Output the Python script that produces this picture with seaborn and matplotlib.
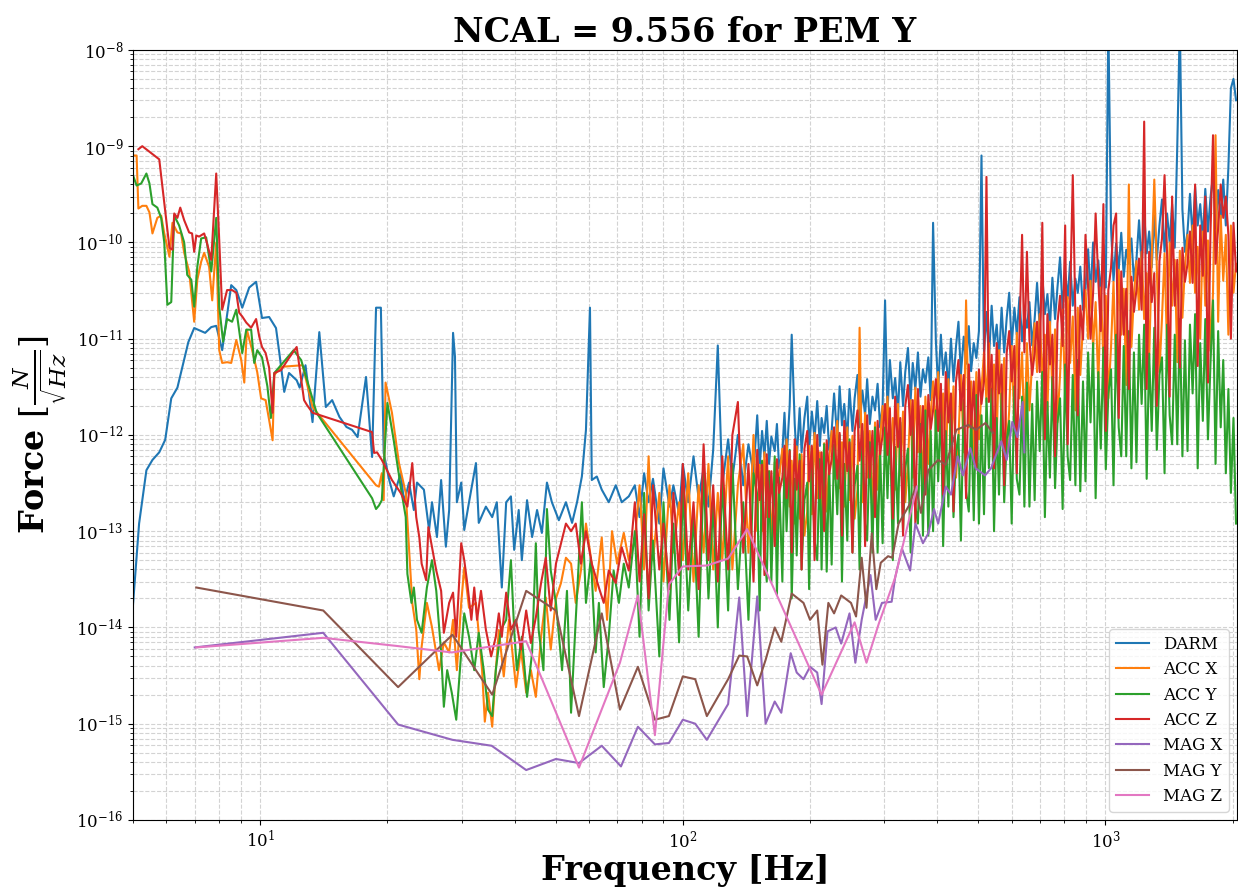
import numpy as np
import pandas as pd
import seaborn as sns
import matplotlib.pyplot as plt
from matplotlib.ticker import LogLocator, NullFormatter

# ---- low frequency part (each channel has its own bins, gaps where masked) ----
darm_freq_low = [
    5.0, 5.17, 5.38, 5.56, 5.77, 5.96, 6.16, 6.37, 6.76, 6.98,
    7.41, 7.66, 7.87, 8.13, 8.54, 8.78, 9.07, 9.42, 9.78, 10.1,
    10.5, 10.9, 11.1, 11.4, 11.7, 12.2, 12.4, 12.8, 13.3, 13.8,
    14.3, 14.8, 15.4, 16.0, 16.5, 17.0, 17.8, 18.4, 18.8, 19.3,
    19.6, 20.2, 20.7, 21.5, 21.9, 22.5, 23.1, 23.5, 24.4, 25.1,
    25.5, 26.2, 26.8, 27.5, 28.0, 28.6, 28.9, 29.2, 29.9, 30.4,
    31.2, 32.4, 32.9, 34.2, 35.4, 36.3, 37.3, 38.2, 39.2, 39.9,
    40.9, 41.6, 42.8, 44.0, 45.2, 46.4, 47.7, 49.0, 50.9, 52.9,
    54.7, 56.2, 57.7, 59.0, 60.3, 60.9, 62.6, 64.3, 66.8, 69.4,
    71.7, 74.5]
darm_low = [
    1.7e-14, 1.2e-13, 4.3e-13, 5.5e-13, 6.6e-13, 8.9e-13, 2.4e-12, 3.1e-12, 9.2e-12, 1.29e-11,
    1.15e-11, 1.32e-11, 1.36e-11, 7.6e-12, 3.6e-11, 3.2e-11, 2.1e-11, 3.4e-11, 3.9e-11, 1.64e-11,
    1.68e-11, 1.29e-11, 7.1e-12, 2.8e-12, 4.4e-12, 3.7e-12, 3.1e-12, 5.3e-12, 1.36e-12, 1.17e-11,
    1.95e-12, 2.3e-12, 1.54e-12, 1.21e-12, 1.13e-12, 9.5e-13, 4.0e-12, 5.9e-13, 2.1e-11, 2.1e-11,
    6.5e-13, 3.4e-13, 2.3e-13, 4.0e-13, 2.0e-13, 3.2e-13, 1.66e-13, 3.2e-13, 2.7e-13, 1.03e-13,
    2.0e-13, 8.7e-14, 3.4e-13, 6.9e-14, 1.66e-13, 1.15e-11, 6.5e-12, 2.0e-13, 3.2e-13, 1.03e-13,
    2.0e-13, 5.1e-13, 1.22e-13, 1.8e-13, 1.4e-13, 2.0e-13, 2.6e-14, 2.0e-13, 2.3e-13, 6.4e-14,
    1.66e-13, 5.0e-14, 2.1e-13, 8.7e-14, 1.66e-13, 9.6e-14, 3.2e-13, 2.0e-13, 1.3e-13, 2.0e-13,
    1.22e-13, 2.0e-13, 3.7e-13, 1.13e-12, 2.1e-11, 3.4e-13, 3.7e-13, 2.7e-13, 2.0e-13, 3.0e-13,
    2.0e-13, 2.3e-13]

accx_freq_low = [
    5.0, 5.1, 5.15, 5.26, 5.38, 5.47, 5.56, 5.71, 5.83, 5.93,
    6.1, 6.2, 6.37, 6.5, 6.61, 6.79, 6.98, 7.1, 7.25, 7.37,
    7.57, 7.7, 7.87, 8.0, 8.13, 8.35, 8.54, 8.78, 9.02, 9.17,
    9.3, 9.57, 9.84, 10.05, 10.3, 10.5, 10.7, 10.8, 11.2, 12.6,
    13.3, 18.8, 19.1, 19.4, 19.6, 19.8, 20.5, 21.3, 22.1, 22.9,
    23.4, 23.8, 24.1, 24.8, 25.5, 26.5, 27.2, 28.0, 28.6, 29.2,
    29.9, 30.4, 31.2, 32.4, 33.5, 34.0, 34.6, 35.4, 36.1, 36.7,
    37.7, 38.8, 40.3, 41.4, 42.6, 43.7, 44.9, 46.2, 47.4, 48.7,
    50.1, 51.5, 52.9, 54.4, 55.8, 57.4, 59.0, 60.6, 62.2, 64.3,
    66.2, 68.0, 69.9, 72.5, 74.5]
accx_low = [
    8.0e-10, 8.0e-10, 2.25e-10, 2.4e-10, 2.4e-10, 2.05e-10, 1.24e-10, 1.8e-10, 1.9e-10, 1.24e-10,
    7.1e-11, 1.6e-10, 1.27e-10, 1.24e-10, 7.8e-11, 5.0e-11, 1.5e-11, 4.1e-11, 6.3e-11, 7.8e-11,
    5.6e-11, 2.5e-11, 1.0e-10, 7.6e-12, 5.6e-12, 5.7e-12, 5.6e-12, 9.7e-12, 6.0e-12, 3.5e-12,
    1.24e-11, 7.6e-12, 4.5e-12, 2.4e-12, 2.3e-12, 1.43e-12, 8.8e-13, 4.2e-12, 5.1e-12, 5.3e-12,
    1.95e-12, 3.0e-13, 2.9e-13, 4.0e-13, 2.1e-13, 3.5e-12, 1.7e-12, 5.1e-13, 2.5e-13, 1.8e-14,
    9.5e-15, 2.9e-15, 6.3e-15, 1.8e-14, 1.0e-14, 3.6e-15, 7.0e-15, 5.5e-15, 1.2e-14, 3.6e-15,
    1.8e-14, 4.2e-14, 1.6e-14, 1.8e-14, 3.6e-15, 1.05e-15, 2.1e-15, 9.3e-16, 3.6e-15, 9.4e-15,
    3.1e-15, 1.2e-14, 2.4e-15, 5.9e-15, 2.1e-15, 3.6e-15, 1.9e-15, 8.0e-15, 2.05e-14, 5.9e-15,
    2.0e-14, 2.9e-14, 5.3e-14, 4.6e-14, 1.8e-14, 3.9e-14, 1.2e-13, 5.3e-14, 2.4e-14, 8.6e-14,
    1.2e-14, 1.0e-13, 4.6e-14, 9.6e-14, 5.0e-14]

accy_freq_low = [
    5.0, 5.1, 5.23, 5.38, 5.47, 5.56, 5.71, 5.83, 5.93, 6.03,
    6.16, 6.26, 6.43, 6.61, 6.72, 6.87, 6.98, 7.1, 7.25, 7.45,
    7.66, 7.87, 8.0, 8.17, 8.35, 8.58, 8.78, 9.07, 9.27, 9.52,
    9.68, 9.84, 10.1, 10.4, 10.6, 10.8, 12.0, 12.5, 13.6, 18.4,
    18.8, 19.1, 19.4, 20.0, 20.7, 21.5, 22.1, 22.3, 22.8, 23.1,
    23.5, 24.1, 24.8, 25.5, 26.1, 26.8, 27.2, 27.7, 28.4, 29.1,
    29.9, 30.4, 31.2, 32.1, 32.9, 33.8, 34.6, 35.4, 36.1, 37.1,
    38.2, 39.2, 39.9, 40.5, 41.6, 42.8, 44.0, 44.9, 45.6, 46.8,
    47.7, 48.7, 50.1, 51.8, 53.2, 54.4, 55.8, 57.7, 59.0, 60.6,
    62.2, 63.3, 65.0, 66.8, 68.6, 70.6, 72.5, 74.5]
accy_low = [
    5.0e-10, 3.9e-10, 4.1e-10, 5.2e-10, 4.1e-10, 2.5e-10, 2.3e-10, 1.8e-10, 1.0e-10, 2.25e-11,
    2.4e-11, 1.9e-10, 1.5e-10, 1.0e-10, 4.6e-11, 4.1e-11, 2.15e-11, 5.6e-11, 1.1e-10, 1.13e-10,
    5.0e-11, 1.8e-10, 2.15e-11, 9.3e-12, 1.6e-11, 1.5e-11, 2.0e-11, 7.1e-12, 1.24e-11, 1.24e-11,
    5.6e-12, 7.6e-12, 6.4e-12, 3.2e-12, 1.5e-12, 4.4e-12, 7.6e-12, 6.0e-12, 1.7e-12, 2.2e-13,
    1.7e-13, 1.85e-13, 2.1e-13, 2.15e-12, 8.8e-13, 2.9e-13, 1.4e-13, 3.6e-14, 1.8e-14, 2.6e-14,
    1.2e-14, 8.8e-15, 2.6e-14, 5.0e-14, 2.4e-14, 5.5e-15, 1.5e-15, 3.6e-15, 2.1e-15, 1.1e-15,
    5.5e-15, 1.4e-14, 8.0e-15, 3.6e-15, 8.8e-15, 3.6e-15, 1.4e-15, 1.2e-15, 3.6e-15, 9.4e-15,
    1.2e-14, 5.0e-14, 9.4e-15, 3.6e-15, 8.0e-15, 1.9e-15, 5.5e-15, 7.5e-14, 9.4e-15, 3.6e-15,
    1.7e-13, 3.9e-14, 1.8e-14, 3.6e-15, 2.4e-14, 1.3e-15, 1.2e-14, 2.0e-13, 1.8e-14, 5.3e-14,
    5.5e-15, 1.8e-14, 2.4e-15, 8.0e-15, 3.9e-14, 1.8e-14, 4.6e-14, 2.6e-14]

accz_freq_low = [
    5.15, 5.26, 5.77, 6.1, 6.2, 6.26, 6.37, 6.47, 6.61, 6.79,
    6.9, 6.98, 7.06, 7.17, 7.37, 7.49, 7.66, 7.87, 8.0, 8.13,
    8.35, 8.58, 8.78, 8.92, 9.07, 9.27, 9.52, 9.78, 9.95, 10.1,
    10.3, 10.5, 10.7, 10.8, 11.2, 11.7, 12.2, 12.7, 12.9, 13.3,
    18.4, 18.6, 18.9, 19.4, 19.8, 20.5, 21.5, 22.3, 22.9, 23.4,
    23.8, 24.1, 24.7, 25.0, 25.5, 26.1, 26.8, 27.2, 28.0, 28.6,
    29.1, 29.9, 30.4, 30.9, 31.6, 32.1, 32.6, 33.3, 34.2, 35.2,
    36.1, 36.7, 37.3, 38.2, 39.2, 40.3, 41.4, 42.6, 43.7, 44.9,
    46.2, 47.4, 48.7, 50.1, 51.5, 52.9, 54.4, 55.8, 57.4, 59.0,
    60.9, 63.3, 65.0, 66.8, 69.4, 71.7, 74.5]
accz_low = [
    9.3e-10, 1.0e-9, 7.3e-10, 8.8e-11, 8.4e-11, 2.0e-10, 1.8e-10, 2.3e-10, 1.7e-10, 1.27e-10,
    1.24e-10, 8.0e-11, 1.18e-10, 1.15e-10, 1.24e-10, 9.7e-11, 6.6e-11, 5.2e-10, 1.05e-10, 2.0e-11,
    3.2e-11, 3.2e-11, 3.0e-11, 1.86e-11, 1.7e-11, 1.47e-11, 1.3e-11, 1.6e-11, 1.05e-11, 8.2e-12,
    7.1e-12, 5.0e-12, 1.7e-12, 4.4e-12, 4.7e-12, 6.3e-12, 8.2e-12, 2.3e-12, 2.05e-12, 1.7e-12,
    1.07e-12, 6.5e-13, 6.6e-13, 5.5e-13, 4.6e-13, 3.4e-13, 2.5e-13, 1.8e-13, 5.1e-13, 1.4e-13,
    8.6e-14, 4.6e-14, 3.1e-14, 1.1e-13, 6.8e-14, 3.9e-14, 2.4e-14, 8.8e-15, 1.8e-14, 2.3e-14,
    8.0e-15, 7.5e-14, 5.0e-14, 2.9e-14, 1.2e-14, 2.6e-14, 1.2e-14, 2.4e-14, 9.5e-15, 5.0e-15,
    8.0e-15, 1.4e-14, 8.0e-15, 2.3e-14, 9.5e-15, 1.2e-14, 5.9e-15, 1.5e-14, 6.9e-15, 1.27e-14,
    2.9e-14, 5.3e-14, 1.5e-14, 4.6e-14, 7.5e-14, 1.2e-13, 1.0e-13, 1.2e-13, 4.6e-14, 1.0e-13,
    4.6e-14, 2.6e-14, 1.8e-14, 3.9e-14, 2.9e-14, 6.8e-14, 3.9e-14]

# ---- high frequency part, shared bins for DARM and the accelerometers ----
freq_hi = [
    77, 79, 81, 83, 85, 88, 90, 93, 95, 98,
    100, 103, 106, 109, 112, 115, 118, 121, 124, 128,
    131, 135, 139, 143, 147,
    150, 152, 154, 156, 158, 160, 162, 165, 167, 169,
    172, 174, 176, 179, 181, 184, 186, 189, 191, 194,
    197, 199, 202, 205, 208, 211, 213, 216, 219, 222,
    225, 228, 232, 235, 238, 241, 245, 248, 252, 255,
    259, 262, 266, 270, 273, 277, 281, 285, 289, 293,
    297, 301, 305, 309, 314, 318, 323, 327, 332, 336,
    341, 346, 350, 355, 360, 365, 370, 375, 381, 386,
    391, 397, 402, 408, 413, 419, 425, 431, 437, 443,
    449, 455, 462, 468, 475, 481, 488, 495, 502, 509,
    516, 523, 530, 538, 545, 553, 560, 568, 576, 584,
    592, 600, 609, 617, 626, 635, 643, 652, 661, 671,
    680, 689, 699, 709, 719, 729, 739, 749, 760, 770,
    781, 792, 803, 814, 825, 837, 849, 860, 872, 885,
    897, 910, 922, 935, 948, 962, 975, 989, 1002, 1016,
    1031, 1045, 1060, 1075, 1090, 1105, 1120, 1136, 1152, 1168,
    1184, 1201, 1218, 1235, 1252, 1269, 1287, 1305, 1323, 1342,
    1361, 1380, 1399, 1419, 1438, 1459, 1479, 1500, 1521, 1542,
    1564, 1585, 1608, 1630, 1653, 1676, 1700, 1723, 1748, 1772,
    1797, 1822, 1848, 1874, 1900, 1927, 1954, 1981, 2009, 2037]
darm_hi = [
    3e-13, 1.4e-13, 4e-13, 2e-13, 3.5e-13, 1.2e-13, 4.5e-13, 1.8e-13, 3e-13, 1.5e-13,
    5e-13, 2e-13, 6e-13, 2.2e-13, 4.5e-13, 1.8e-13, 7e-13, 8.5e-12, 3e-13, 9e-13,
    3.5e-13, 1e-12, 3e-13, 8e-13, 4e-13,
    1.6e-12, 4.5e-13, 1.1e-12, 5.9e-13, 1.4e-12, 5e-13, 9.6e-13, 6.8e-13, 1.3e-12, 4.5e-13,
    6.6e-13, 1.7e-12, 5.5e-13, 2e-12, 1.1e-11, 1.3e-12, 5.5e-13, 1.9e-12, 6.6e-13, 1.5e-12,
    2.5e-12, 7e-13, 1.75e-12, 9.1e-13, 2.25e-12, 7.7e-13, 1.5e-12, 1.05e-12, 2e-12, 7e-13,
    1.1e-12, 2.7e-12, 9e-13, 3.2e-12, 1.26e-12, 2.1e-12, 9e-13, 3e-12, 1.1e-12, 2.4e-12,
    4.2e-12, 1.2e-12, 2.9e-12, 1.6e-12, 3.8e-12, 1.3e-12, 2.5e-12, 1.8e-12, 3.4e-12, 1.2e-12,
    2e-12, 2.5e-11, 1.7e-12, 6e-12, 2.4e-12, 3.9e-12, 1.7e-12, 5.7e-12, 2e-12, 4.5e-12,
    8e-12, 2.3e-12, 5.6e-12, 3e-12, 7.2e-12, 2.5e-12, 4.8e-12, 3.5e-12, 6.4e-12, 2.3e-12,
    1.6e-10, 9.4e-12, 3e-12, 1.1e-11, 4.2e-12, 7.2e-12, 3e-12, 1e-11, 3.6e-12, 8.3e-12,
    1.5e-11, 4.2e-12, 1.05e-11, 5.5e-12, 1.35e-11, 4.6e-12, 9e-12, 6.3e-12, 1.2e-11, 8e-10,
    7.2e-12, 1.9e-11, 6e-12, 2.2e-11, 8.4e-12, 1.4e-11, 6e-12, 2.1e-11, 7.2e-12, 1.65e-11,
    3e-11, 8.5e-12, 2.1e-11, 1.1e-11, 2.7e-11, 9.4e-12, 1.8e-11, 1.3e-11, 2.4e-11, 8.5e-12,
    1.6e-11, 3.8e-11, 1.3e-11, 4.5e-11, 1.8e-11, 2.9e-11, 1.3e-11, 4.3e-11, 1.6e-11, 3.4e-11,
    7e-11, 2e-11, 4.9e-11, 2.6e-11, 6.3e-11, 2.2e-11, 4.2e-11, 3e-11, 5.6e-11, 2e-11,
    3.4e-11, 8.5e-11, 2.8e-11, 1e-10, 3.9e-11, 6.5e-11, 2.8e-11, 9.5e-11, 3.4e-11, 2e-8,
    1.4e-10, 4e-11, 9.8e-11, 5.2e-11, 1.26e-10, 4.4e-11, 8.4e-11, 6e-11, 1.1e-10, 4e-11,
    6.6e-11, 1.7e-10, 5.5e-11, 2e-10, 7.7e-11, 1.3e-10, 5.5e-11, 1.9e-10, 6.6e-11, 1.5e-10,
    2.8e-10, 8e-11, 2e-10, 1e-10, 2.5e-10, 8.8e-11, 1e-9, 2e-8, 2.2e-10, 8e-11,
    1.3e-10, 3.2e-10, 1.1e-10, 3.8e-10, 1.5e-10, 2.5e-10, 1.1e-10, 3.6e-10, 1.3e-10, 2.9e-10,
    5e-10, 1.4e-10, 3.5e-10, 1.8e-10, 4.5e-10, 1.5e-10, 6e-10, 4e-9, 5e-9, 3e-9]
accx_hi = [
    8e-14, 3e-13, 4e-14, 6e-13, 5e-14, 2.5e-13, 3e-14, 3e-13, 6e-14, 2e-13,
    5e-14, 4e-13, 3e-14, 3e-13, 6e-14, 5e-13, 4e-14, 2.5e-13, 5e-14, 6e-13,
    4e-14, 3e-13, 8e-13, 6e-14, 1e-12,
    1e-13, 4.9e-13, 1e-13, 6.6e-13, 1.4e-13, 4.2e-13, 7.5e-14, 5.2e-13, 1e-13, 3.5e-13,
    7.2e-13, 2.2e-13, 9e-13, 1.8e-13, 5.4e-13, 1.2e-13, 7.6e-13, 1.35e-13, 6.3e-13, 9e-14,
    1.6e-13, 7.7e-13, 1.5e-13, 1.05e-12, 2.2e-13, 6.6e-13, 1.1e-13, 8.2e-13, 1.6e-13, 5.5e-13,
    1.1e-12, 3.5e-13, 1.4e-12, 2.8e-13, 8.4e-13, 1.8e-13, 1.2e-12, 2.1e-13, 9.8e-13, 1.35e-13,
    2.7e-13, 1.3e-11, 2e-13, 1.7e-12, 3.6e-13, 1.1e-12, 1.5e-13, 1.35e-12, 2.7e-13, 9e-13,
    2e-12, 6.2e-13, 2.5e-12, 5e-13, 1.5e-12, 2.7e-13, 2.1e-12, 3.8e-13, 1.75e-12, 2e-13,
    5e-13, 2.3e-12, 3.6e-13, 3.1e-12, 6.6e-13, 2e-12, 2.7e-13, 2.5e-12, 5e-13, 1.65e-12,
    3.6e-12, 1.1e-12, 4.5e-12, 9e-13, 2.7e-12, 4.8e-13, 3.8e-12, 6.8e-13, 3.2e-12, 3.6e-13,
    9e-13, 4.2e-12, 6.6e-13, 2.5e-11, 1.2e-12, 3.6e-12, 5e-13, 4.5e-12, 9e-13, 3e-12,
    7.2e-12, 2.2e-12, 9e-12, 1.8e-12, 5.4e-12, 9e-13, 7.6e-12, 1.35e-12, 6.3e-12, 6.8e-13,
    1.8e-12, 8.4e-12, 1.2e-12, 1.15e-11, 2.4e-12, 7.2e-12, 9e-13, 9e-12, 1.8e-12, 6e-12,
    1.45e-11, 4.5e-12, 1.8e-11, 3.6e-12, 1.1e-11, 1.8e-12, 1.5e-11, 2.7e-12, 1.25e-11, 1.35e-12,
    4.2e-12, 2e-11, 2.4e-12, 2.7e-11, 5.6e-12, 1.7e-11, 1.8e-12, 2.1e-11, 4.2e-12, 1.4e-11,
    3.2e-11, 1e-11, 4e-11, 8e-12, 2.4e-11, 3.2e-12, 3.4e-11, 6e-12, 2.8e-11, 2.4e-12,
    8.2e-12, 3.9e-11, 4.4e-12, 5.2e-11, 1.1e-11, 3.3e-11, 3.3e-12, 4e-10, 8.2e-12, 2.8e-11,
    6.4e-11, 2e-11, 8e-11, 1.6e-11, 4.8e-11, 6e-12, 6.8e-11, 4.5e-10, 5.6e-11, 4.5e-12,
    1.65e-11, 7.7e-11, 7.6e-12, 1e-10, 2.2e-11, 6.6e-11, 5.7e-12, 8.2e-11, 1.65e-11, 5.5e-11,
    1.2e-10, 3.8e-11, 1.5e-10, 3e-11, 9e-11, 1e-11, 1.3e-10, 2.2e-11, 1.05e-10, 7.5e-12,
    3e-11, 1.3e-9, 1.5e-11, 1.9e-10, 4e-11, 1.2e-10, 1.1e-11, 1.5e-10, 3e-11, 6e-11]
accy_hi = [
    1e-13, 8e-15, 2.5e-13, 1.5e-14, 8e-14, 5e-15, 2e-13, 1.2e-14, 1.2e-13, 7e-15,
    3e-13, 1.5e-14, 1.5e-13, 8e-15, 4e-13, 2e-14, 2e-13, 1e-14, 3.5e-13, 1.5e-14,
    5e-13, 2.5e-14, 2e-13, 1.2e-14, 4e-13,
    2.4e-13, 1.5e-14, 5.4e-13, 6e-14, 3e-14, 4.2e-13, 3e-14, 6e-13, 2.2e-14, 3.6e-13,
    3e-14, 5.6e-13, 1e-13, 7e-13, 2e-14, 3.5e-13, 5.6e-14, 6.3e-13, 4e-14, 2.1e-13,
    3.2e-13, 2.5e-14, 7.2e-13, 8e-14, 5e-14, 5.6e-13, 4e-14, 8e-13, 3.8e-14, 4.8e-13,
    4.5e-14, 8e-13, 1.5e-13, 1e-12, 3e-14, 5e-13, 8e-14, 9e-13, 6e-14, 3e-13,
    4.8e-13, 4e-14, 1.1e-12, 1.2e-13, 8e-14, 8.4e-13, 6e-14, 1.2e-12, 6e-14, 7.2e-13,
    7.5e-14, 1.2e-12, 2.2e-13, 1.5e-12, 5e-14, 7.5e-13, 1.2e-13, 1.35e-12, 1e-13, 4.5e-13,
    7.2e-13, 6e-14, 1.6e-12, 1.8e-13, 1.2e-13, 1.3e-12, 9e-14, 1.8e-12, 9e-14, 1.1e-12,
    1e-13, 1.8e-12, 3.3e-13, 2.2e-12, 7e-14, 1.1e-12, 1.8e-13, 2e-12, 1.4e-13, 6.6e-13,
    1e-12, 8e-14, 2.3e-12, 2.6e-13, 1.6e-13, 1.8e-12, 1.3e-13, 2.6e-12, 1.2e-13, 1.6e-12,
    1.5e-13, 2.4e-12, 4.5e-13, 3e-12, 1e-13, 1.5e-12, 2.4e-13, 2.7e-12, 2e-13, 9e-13,
    1.4e-12, 1.2e-13, 3.2e-12, 3.5e-13, 2.4e-13, 2.5e-12, 1.8e-13, 3.5e-12, 1.8e-13, 2.1e-12,
    2.1e-13, 3.6e-12, 6.8e-13, 4.5e-12, 1.4e-13, 2.2e-12, 3.6e-13, 4e-12, 2.8e-13, 1.35e-12,
    2.4e-12, 1.7e-13, 5.4e-12, 6e-13, 3.4e-13, 4.2e-12, 3e-13, 6e-12, 2.6e-13, 3.6e-12,
    3.3e-13, 7.2e-12, 1.35e-12, 9e-12, 2.2e-13, 4.5e-12, 7.2e-13, 8.1e-12, 4.4e-13, 2.7e-12,
    4.8e-12, 3e-13, 1.1e-11, 1.2e-12, 6e-13, 8.4e-12, 6e-13, 1.2e-11, 4.5e-13, 7.2e-12,
    5.2e-13, 1.1e-11, 2.1e-12, 1.4e-11, 3.5e-13, 7e-12, 1.1e-12, 1.3e-11, 7e-13, 4.2e-12,
    6.4e-12, 4e-13, 1.4e-11, 1.6e-12, 8e-13, 1.1e-11, 8e-13, 1.6e-11, 6e-13, 9.6e-12,
    6.8e-13, 1.4e-11, 2.7e-12, 1.8e-11, 4.5e-13, 9e-12, 1.4e-12, 1.6e-11, 9e-13, 5.4e-12,
    2.5e-11, 5e-13, 1.2e-11, 1.2e-12, 6e-12, 4e-13, 3e-12, 2.5e-13, 1.5e-12, 1.2e-13]
accz_hi = [
    2e-13, 3e-14, 1.5e-13, 2e-14, 3e-13, 4e-14, 1.2e-13, 2.5e-14, 2.5e-13, 3.5e-14,
    5e-13, 4e-14, 2e-13, 2.5e-14, 8e-13, 5e-14, 3e-13, 3e-14, 6e-13, 4e-14,
    1e-12, 2.2e-12, 6e-14, 5e-13, 3e-14,
    7e-13, 2.1e-13, 4.9e-13, 3.5e-14, 6.3e-13, 1.4e-13, 4.2e-13, 7e-14, 5.6e-13, 2.5e-13,
    3.6e-13, 7.7e-13, 2.2e-13, 6.8e-13, 6e-14, 9e-13, 2.7e-13, 5.4e-13, 4e-14, 7.2e-13,
    1.1e-12, 3.3e-13, 7.7e-13, 5e-14, 1e-12, 2.2e-13, 6.6e-13, 1e-13, 8.8e-13, 3.9e-13,
    5.6e-13, 1.2e-12, 3.5e-13, 1.05e-12, 9e-14, 1.4e-12, 4.2e-13, 8.4e-13, 6e-14, 1.1e-12,
    1.8e-12, 5.4e-13, 1.3e-12, 7e-14, 1.6e-12, 3.6e-13, 1.1e-12, 1.4e-13, 1.4e-12, 6.3e-13,
    1e-12, 2.1e-12, 6.2e-13, 1.9e-12, 1.35e-13, 2.5e-12, 7.5e-13, 1.5e-12, 9e-14, 2e-12,
    3.3e-12, 1e-12, 2.3e-12, 1.2e-13, 3e-12, 6.6e-13, 2e-12, 2.4e-13, 2.6e-12, 1.15e-12,
    1.8e-12, 3.8e-12, 1.1e-12, 3.4e-12, 2.4e-13, 4.5e-12, 1.35e-12, 2.7e-12, 1.6e-13, 3.6e-12,
    6e-12, 1.8e-12, 4.2e-12, 2.2e-13, 5.4e-12, 1.2e-12, 3.6e-12, 4.4e-13, 4.8e-12, 2.1e-12,
    3.6e-12, 4.8e-10, 2.2e-12, 6.8e-12, 4.5e-13, 9e-12, 2.7e-12, 5.4e-12, 3e-13, 7.2e-12,
    1.2e-11, 3.6e-12, 8.4e-12, 4e-13, 1.1e-11, 1.2e-10, 7.2e-12, 8e-11, 9.6e-12, 4.2e-12,
    7.2e-12, 1.5e-11, 4.5e-12, 1.6e-10, 9e-13, 1.8e-11, 5.4e-12, 1.1e-11, 6e-13, 1.45e-11,
    2.8e-11, 8.4e-12, 1.5e-10, 8e-13, 2.5e-11, 5e-10, 1.7e-11, 1.6e-12, 2.2e-11, 9.8e-12,
    1.2e-10, 3.4e-11, 1e-11, 3e-11, 2e-10, 4e-11, 1.2e-11, 2.5e-10, 1.1e-12, 3.2e-11,
    5.5e-11, 1.5e-10, 2e-10, 1.5e-12, 5e-11, 1.1e-11, 3.3e-11, 3e-12, 4.4e-11, 1.9e-11,
    3.2e-11, 6.8e-11, 2e-11, 1.8e-9, 3e-12, 8e-11, 2.4e-11, 4.8e-11, 2e-12, 6.4e-11,
    1.1e-10, 5e-10, 7.7e-11, 2.5e-12, 3e-10, 2.2e-11, 6.6e-11, 5e-12, 8.8e-11, 3.9e-11,
    6e-11, 1.3e-10, 3.8e-11, 4e-10, 5.2e-12, 1.5e-10, 4.5e-11, 3e-10, 3.5e-12, 1.2e-10,
    1.3e-9, 6e-11, 1.4e-10, 4e-10, 1.8e-10, 3e-10, 1.2e-10, 1e-11, 1.6e-10, 5e-11]

# ---- magnetometers (coarse bins) ----
magx_freq = [
    7.0, 14.1, 21.2, 28.5, 35.3, 42.6, 50.1, 56.8, 64.3, 71.4,
    78.3, 85.9, 92.7, 100, 107, 114, 128, 136, 142, 150,
    157, 165, 171, 180, 186, 193, 200, 208, 213, 220,
    230, 237, 248, 256, 265, 278, 286, 296, 312, 318,
    330, 345, 355, 370, 381, 393, 402, 419, 431, 447,
    460, 479, 493, 519, 536, 567, 584, 602, 619, 637,
    643]
magx = [
    6.2e-15, 8.8e-15, 9.8e-16, 6.8e-16, 5.9e-16, 3.3e-16, 4.3e-16, 3.9e-16, 5.9e-16, 3.6e-16,
    9.3e-16, 6.1e-16, 6.3e-16, 1.1e-15, 1.0e-15, 6.8e-16, 1.6e-15, 2.05e-14, 1.2e-15, 2.1e-14,
    1.0e-15, 1.7e-15, 1.3e-15, 5.4e-15, 3.4e-15, 2.9e-15, 3.9e-15, 3.4e-15, 1.6e-15, 9.1e-15,
    1.0e-14, 6.8e-15, 1.4e-14, 4.3e-15, 1.2e-14, 3.5e-14, 1.2e-14, 1.8e-14, 1.85e-14, 3.3e-14,
    6.6e-14, 3.9e-14, 1.2e-13, 7.5e-14, 9.5e-14, 1.7e-13, 1.2e-13, 2.9e-13, 2.4e-13, 6.0e-13,
    3.8e-13, 7.3e-13, 4.5e-13, 3.8e-13, 4.5e-13, 8.6e-13, 5.5e-13, 1.37e-12, 9.5e-13, 2.2e-12,
    6.6e-13]

magy_freq = [
    7.06, 14.1, 21.2, 28.5, 35.4, 42.6, 50.1, 56.8, 64.3, 71.0,
    78.3, 85.9, 92.7, 100, 107, 114, 128, 136, 142, 150,
    157, 165, 171, 181, 193, 200, 208, 214, 221, 228,
    237, 250, 257, 265, 272, 280, 287, 294, 306, 313,
    324, 343, 356, 366, 381, 402, 419, 444, 474, 494,
    520, 542]
magy = [
    2.6e-14, 1.5e-14, 2.4e-15, 8.4e-15, 2.0e-15, 2.4e-14, 1.5e-14, 1.2e-15, 1.4e-14, 1.4e-15,
    3.9e-15, 1.1e-15, 1.2e-15, 3.1e-15, 2.9e-15, 1.2e-15, 2.9e-15, 5.1e-15, 5.0e-15, 2.5e-15,
    4.6e-15, 1.0e-14, 7.1e-15, 2.25e-14, 1.8e-14, 1.2e-14, 1.5e-14, 4.1e-15, 1.8e-14, 1.4e-14,
    2.15e-14, 1.8e-14, 1.3e-14, 5.3e-14, 1.6e-14, 9.5e-14, 2.5e-14, 4.7e-14, 5.5e-14, 5.3e-14,
    1.2e-13, 1.85e-13, 2.9e-13, 1.55e-13, 4.3e-13, 5.5e-13, 4.9e-13, 1.13e-12, 1.27e-12, 1.13e-12,
    1.33e-12, 1.05e-12]

magz_freq = [7.06, 14.1, 21.2, 28.4, 42.6, 56.8, 71.0, 78.3, 85.9, 92.7,
             100, 114, 128, 142, 213, 255, 272, 291, 318, 358]
magz = [6.2e-15, 7.8e-15, 6.4e-15, 5.5e-15, 7.2e-15, 3.5e-16, 4.3e-15, 2.15e-14, 7.6e-16, 2.8e-14,
        4.3e-14, 4.4e-14, 5.2e-14, 1.05e-13, 2.0e-15, 1.13e-14, 4.3e-15, 1.1e-14, 3.3e-14, 2.9e-13]

y_decades = [1e-16, 1e-15, 1e-14, 1e-13, 1e-12, 1e-11, 1e-10, 1e-9, 1e-8]

channels = ['DARM', 'ACC X', 'ACC Y', 'ACC Z', 'MAG X', 'MAG Y', 'MAG Z']
series = {
    'DARM': (darm_freq_low + freq_hi, darm_low + darm_hi),
    'ACC X': (accx_freq_low + freq_hi, accx_low + accx_hi),
    'ACC Y': (accy_freq_low + freq_hi, accy_low + accy_hi),
    'ACC Z': (accz_freq_low + freq_hi, accz_low + accz_hi),
    'MAG X': (magx_freq, magx),
    'MAG Y': (magy_freq, magy),
    'MAG Z': (magz_freq, magz),
}
df = pd.concat(
    [pd.DataFrame({'freq': f, 'force': v, 'channel': name}) for name, (f, v) in series.items()],
    ignore_index=True)

plt.rcParams['font.family'] = 'DejaVu Serif'
plt.rcParams['mathtext.fontset'] = 'dejavuserif'

fig = plt.figure(figsize=(12.38, 8.9), dpi=100)
ax = fig.add_axes([0.1074, 0.0787, 0.8918, 0.8652])
ax.set_xscale('log')
ax.set_yscale('log')

sns.lineplot(data=df, x='freq', y='force', hue='channel', hue_order=channels,
             palette=sns.color_palette('tab10', 7), estimator=None, sort=False,
             linewidth=1.5, ax=ax)

ax.set_xlim(5, 2048)
ax.set_ylim(1e-16, 1e-8)
ax.set_yticks(y_decades)
ax.yaxis.set_minor_locator(LogLocator(base=10, subs=np.arange(2, 10), numticks=12))
ax.yaxis.set_minor_formatter(NullFormatter())
ax.xaxis.set_minor_formatter(NullFormatter())
ax.set_xlim(5, 2048)
ax.set_ylim(1e-16, 1e-8)
ax.grid(True, which='both', linestyle='--', color='#d3d3d3', linewidth=0.8)
ax.tick_params(labelsize=12)

ax.set_title('NCAL = 9.556 for PEM Y', fontsize=24, fontweight='bold')
ax.set_xlabel('Frequency [Hz]', fontsize=24, fontweight='bold', labelpad=2)
ax.set_ylabel(r'Force $[\frac{N}{\sqrt{Hz}}]$', fontsize=24, fontweight='bold')
sns.move_legend(ax, 'lower right', title=None, fontsize=12)

fig.savefig('out.png', dpi=100)
